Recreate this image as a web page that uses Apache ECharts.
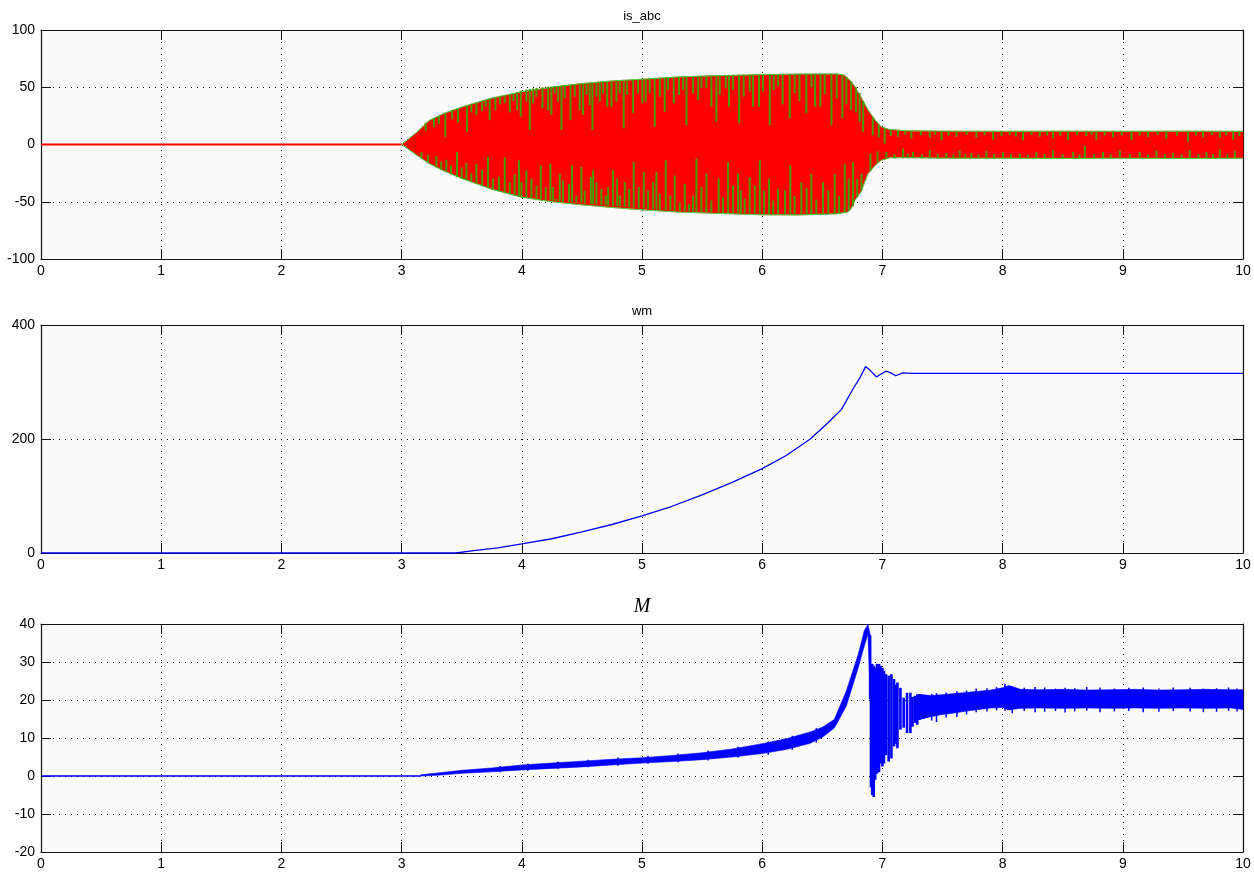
<!DOCTYPE html>
<html>
<head>
<meta charset="utf-8">
<script src="https://cdn.jsdelivr.net/npm/echarts@6/dist/echarts.min.js"></script>
<style>
  html, body { margin: 0; padding: 0; background: #ffffff; }
  #chart { width: 1254px; height: 872px; }
</style>
</head>
<body>
<div id="chart"></div>
<script>
// ---------- time axis (s) ----------
const timeTicks = [0, 1, 2, 3, 4, 5, 6, 7, 8, 9, 10];

// ---------- is_abc : stator phase currents ----------
const isTicks = [-100, -50, 0, 50, 100];
// current is zero until the machine is switched on
const isIdleT = [0, 3.0];
const isIdleV = [0, 0];
// upper envelope of the three phase currents
const isUpT = [3.0, 3.13, 3.23, 3.35, 3.51, 3.75, 4.0, 4.25, 4.48, 4.75, 5.0, 5.3, 5.59, 6.0, 6.3, 6.62, 6.68, 6.71, 6.74, 6.77, 6.82, 6.88, 6.94, 6.99, 7.06, 7.2, 7.6, 8.0, 8.5, 9.0, 9.5, 10.0];
const isUpV = [0, 11, 21, 27, 33, 40.5, 46, 50, 53, 55.5, 57, 59, 60, 61, 61.5, 61.6, 60.8, 58, 55, 50.5, 41.8, 30.1, 21.3, 15.4, 13.1, 11.9, 11.6, 11.5, 11.6, 11.5, 11.6, 11.5];
// lower envelope of the three phase currents
const isLoT = [3.0, 3.13, 3.23, 3.35, 3.51, 3.75, 4.0, 4.25, 4.48, 4.75, 5.0, 5.3, 5.59, 6.0, 6.3, 6.62, 6.71, 6.74, 6.77, 6.82, 6.88, 6.94, 6.99, 7.06, 7.2, 7.6, 8.0, 8.5, 9.0, 9.5, 10.0];
const isLoV = [0, -9.5, -16.7, -23, -30, -39, -46, -50, -52.5, -55, -57, -59, -60, -61.4, -61.5, -60.5, -59, -56, -49, -41.6, -25.5, -18.2, -13.8, -11.6, -11.5, -12, -12, -12.2, -12, -12.2, -12];
// phase b peaks showing through phase c, positive half : [t, edge, tip]
const isStreaksUp = [
  [3.20, 19, 12], [3.27, 23, 15], [3.31, 25, 18], [3.364, 27, 6.7], [3.42, 30, 22], [3.47, 31, 19],
  [3.544, 34, 11.1], [3.58, 35.5, 28], [3.622, 36.5, 25.7], [3.67, 38, 29], [3.70, 39, 33], [3.733, 40, 21.3],
  [3.78, 41, 30], [3.82, 42, 35], [3.858, 43, 36], [3.90, 44, 28], [3.93, 44.5, 38], [3.961, 45.5, 30.1],
  [3.991, 47, 24.2], [4.038, 48, 37.4], [4.066, 48.5, 12.6], [4.094, 49, 35.9], [4.122, 49.5, 41.8],
  [4.172, 50, 31.6], [4.219, 50.5, 30.1], [4.246, 50.5, 25.7], [4.274, 51, 44.7], [4.302, 51.3, 37.4],
  [4.330, 51.6, 12.6], [4.357, 51.8, 40.3], [4.405, 52.3, 21.3], [4.441, 52.6, 41.8], [4.482, 53, 30.1],
  [4.510, 53.2, 25.7], [4.538, 53.4, 43.3], [4.565, 53.6, 34.5], [4.588, 53.8, 12.6], [4.621, 54, 41.8],
  [4.649, 54.3, 37.4], [4.676, 54.5, 44.7], [4.710, 54.8, 33.0], [4.746, 55, 33.0], [4.787, 55.3, 37.4],
  [4.815, 55.6, 44.7], [4.848, 55.8, 14.0], [4.876, 56, 43.3], [4.926, 56.4, 27.2], [4.967, 56.7, 44.7],
  [5.003, 57, 35.9], [5.031, 57.2, 37.4], [5.064, 57.4, 44.7], [5.106, 57.7, 15.5], [5.148, 58, 41.8],
  [5.189, 58.2, 28.6], [5.217, 58.4, 47.6], [5.264, 58.6, 35.9], [5.308, 58.9, 43.3], [5.342, 59, 47.6],
  [5.370, 59.2, 16.9], [5.425, 59.4, 44.7], [5.467, 59.6, 38.9], [5.494, 59.7, 49.1], [5.536, 59.9, 49.1],
  [5.577, 60, 33.0], [5.619, 60.2, 19.9], [5.647, 60.3, 43.3], [5.697, 60.5, 49.1], [5.724, 60.6, 33.0],
  [5.758, 60.7, 47.6], [5.808, 60.8, 18.4], [5.846, 60.9, 41.8], [5.896, 61, 46.2], [5.924, 61, 33.0],
  [5.974, 61.1, 33.0], [6.007, 61.2, 46.2], [6.063, 61.3, 16.9], [6.096, 61.3, 47.6], [6.132, 61.4, 50.6],
  [6.17, 61.4, 35], [6.229, 61.5, 22.8], [6.27, 61.5, 45], [6.31, 61.5, 38], [6.367, 61.5, 27.2],
  [6.41, 61.5, 50], [6.44, 61.5, 33], [6.484, 61.5, 33], [6.52, 61.5, 44], [6.576, 61.5, 16.9],
  [6.62, 61.3, 40], [6.667, 60.8, 22.8], [6.70, 59, 35], [6.74, 55, 30], [6.78, 50, 28], [6.81, 45, 20],
  [6.84, 38, 11], [6.92, 24, 8], [6.97, 17, 6],
  [7.019, 14, 0.9], [7.07, 13, 7.5], [7.13, 12.5, 6.7], [7.19, 12, 8.5], [7.241, 11.8, 5.2], [7.32, 11.7, 8.0],
  [7.394, 11.6, 6.1], [7.44, 11.6, 8.4], [7.491, 11.6, 3.8], [7.55, 11.6, 7.9], [7.616, 11.6, 6.7],
  [7.70, 11.5, 8.6], [7.782, 11.5, 6.1], [7.85, 11.5, 8.0], [7.921, 11.5, 4.3], [7.99, 11.5, 7.6],
  [8.06, 11.5, 8.2], [8.11, 11.5, 6.9], [8.17, 11.5, 3.8], [8.24, 11.5, 8.3], [8.309, 11.5, 6.7],
  [8.37, 11.5, 8.0], [8.42, 11.5, 5.2], [8.48, 11.5, 7.7], [8.545, 11.5, 3.8], [8.62, 11.5, 8.1],
  [8.697, 11.5, 7.3], [8.74, 11.5, 8.6], [8.78, 11.5, 4.3], [8.85, 11.5, 7.8], [8.919, 11.5, 6.1],
  [8.99, 11.5, 8.2], [9.072, 11.5, 3.8], [9.14, 11.5, 7.9], [9.21, 11.5, 6.7], [9.29, 11.5, 8.4],
  [9.363, 11.5, 5.2], [9.45, 11.5, 7.6], [9.543, 11.5, 2.3], [9.61, 11.5, 8.0], [9.668, 11.5, 6.1],
  [9.74, 11.5, 8.3], [9.807, 11.5, 6.1], [9.86, 11.5, 7.9], [9.918, 11.5, 4.3], [9.97, 11.5, 7.4]
];
// negative half : [t, edge, tip]
const isStreaksDown = [
  [3.165, -12, -6.5], [3.22, -16, -9], [3.289, -20, -10.3], [3.33, -22, -15], [3.372, -24, -13.3],
  [3.41, -26, -18], [3.461, -28, -6.5], [3.50, -30, -20], [3.539, -31, -16.2], [3.58, -32.5, -25],
  [3.622, -34, -16.8], [3.67, -36, -22], [3.719, -37.5, -10.9], [3.76, -39.5, -30], [3.81, -41, -28],
  [3.858, -42, -10.9], [3.90, -43.5, -33], [3.94, -44.5, -26], [3.977, -45.5, -13.8],
  [3.997, -46, -32.8], [4.038, -46.5, -22.5], [4.080, -47, -29.9], [4.122, -47.5, -35.8], [4.158, -48, -18.2],
  [4.199, -48.5, -37.2], [4.238, -49, -16.7], [4.260, -49.2, -37.2], [4.288, -49.5, -47.4], [4.316, -49.8, -25.5],
  [4.343, -50, -31.4], [4.393, -50.5, -34.3], [4.418, -50.7, -18.2], [4.454, -51, -44.5], [4.496, -51.3, -19.6],
  [4.524, -51.5, -40.1], [4.574, -52, -28.4], [4.593, -52.1, -22.5], [4.621, -52.4, -32.8], [4.662, -52.8, -38.7],
  [4.698, -53.1, -44.5], [4.718, -53.3, -37.2], [4.759, -53.7, -22.5], [4.793, -54, -29.9], [4.815, -54.2, -44.5],
  [4.856, -54.6, -32.8], [4.893, -55, -38.7], [4.931, -55.3, -15.2], [4.973, -55.7, -37.2], [5.015, -56, -24.0],
  [5.051, -56.3, -40.1], [5.092, -56.6, -32.8], [5.120, -56.8, -24.0], [5.148, -57, -43.1], [5.198, -57.3, -13.8],
  [5.236, -57.6, -44.5], [5.272, -57.8, -26.9], [5.314, -58, -50.4], [5.356, -58.2, -34.3], [5.392, -58.4, -51.8],
  [5.425, -58.6, -44.5], [5.453, -58.7, -12.3], [5.494, -58.9, -37.2], [5.536, -59.1, -25.5], [5.577, -59.3, -48.9],
  [5.638, -59.5, -29.9], [5.674, -59.7, -46.0], [5.716, -59.8, -15.2], [5.758, -60, -35.8], [5.799, -60.1, -25.5],
  [5.822, -60.2, -40.1], [5.855, -60.3, -47.4], [5.896, -60.4, -28.4], [5.938, -60.5, -35.8], [5.980, -60.6, -13.8],
  [6.016, -60.7, -40.1], [6.057, -60.8, -29.9], [6.091, -60.9, -48.9], [6.132, -61, -38.7],
  [6.19, -61.5, -40], [6.234, -61.5, -18.3], [6.27, -61.5, -45], [6.326, -61.5, -32.9], [6.37, -61.5, -38],
  [6.409, -61.3, -25.6], [6.45, -61.2, -48], [6.506, -61, -32.9], [6.55, -61, -40], [6.603, -60.5, -25.6],
  [6.64, -60.2, -45], [6.687, -59.5, -16.8], [6.72, -58, -30], [6.756, -54, -15.3], [6.79, -46, -30],
  [6.826, -40, -25.6], [6.9, -23, -8], [6.96, -16, -6],
  [7.033, -12.5, -6.5], [7.10, -12, -8.4], [7.172, -11.8, -3.5], [7.21, -11.8, -8.0], [7.255, -11.8, -6.5],
  [7.33, -12, -8.6], [7.394, -12, -5], [7.46, -12, -8.2], [7.532, -12, -7.4], [7.59, -12, -8.8],
  [7.643, -12, -5], [7.69, -12, -8.5], [7.74, -12, -7.4], [7.80, -12, -8.9], [7.865, -12, -5.6],
  [7.93, -12.2, -8.3], [8.004, -12.2, -6.5], [8.07, -12.2, -8.7], [8.143, -12.2, -8], [8.21, -12.2, -8.9],
  [8.281, -12.2, -6.5], [8.35, -12.2, -8.4], [8.42, -12.2, -5], [8.50, -12.2, -8.6], [8.587, -12.2, -6.5],
  [8.64, -12.2, -8.8], [8.684, -12, -1.2], [8.76, -12, -8.5], [8.836, -12, -6.5], [8.90, -12, -8.7],
  [8.975, -12, -5], [9.06, -12.2, -8.4], [9.141, -12.2, -6.5], [9.21, -12.2, -8.8], [9.28, -12.2, -5],
  [9.35, -12.2, -8.5], [9.419, -12.2, -7.4], [9.49, -12, -8.6], [9.557, -12, -5], [9.63, -12, -8.7],
  [9.696, -12, -6.5], [9.75, -12, -8.4], [9.807, -12, -4.4], [9.87, -12, -8.8], [9.932, -12, -5.6]
];

// ---------- wm : rotor speed ----------
const wmTicks = [0, 200, 400];
const wmT = [0, 3.45, 3.6, 3.8, 4.0, 4.25, 4.5, 4.75, 5.0, 5.25, 5.5, 5.75, 6.0, 6.2, 6.4, 6.55, 6.66, 6.75, 6.82, 6.86, 6.9, 6.95, 6.99, 7.03, 7.07, 7.11, 7.17, 7.25, 7.35, 7.5, 8.0, 8.5, 9.0, 9.5, 10.0];
const wmV = [0, 0, 4, 9, 16, 25, 37, 50, 65, 82, 102, 124, 148, 171, 200, 229, 252, 286, 310, 327, 320, 309, 314, 319, 316, 311, 316, 315, 315, 315, 315, 315, 315, 315, 315];

// ---------- M : electromagnetic torque ----------
const mTicks = [-20, -10, 0, 10, 20, 30, 40];
const mIdleT = [0, 3.16];
const mIdleV = [0, 0];
// acceleration: torque ripple band
const mRiseT  = [3.16, 3.3, 3.5, 3.75, 4.0, 4.25, 4.5, 4.75, 5.0, 5.25, 5.5, 5.75, 6.0, 6.2, 6.4, 6.5, 6.6, 6.7, 6.8, 6.85, 6.88, 6.9];
const mRiseLo = [0, 0.2, 0.7, 1.1, 1.6, 2.0, 2.4, 2.9, 3.4, 3.8, 4.3, 5.0, 5.9, 7.0, 8.6, 10.2, 12.6, 18.4, 28.6, 34.3, 37.4, 20.2];
const mRiseHi = [0.3, 0.8, 1.5, 2.1, 2.9, 3.4, 3.9, 4.4, 4.8, 5.4, 6.1, 7.1, 8.5, 9.8, 11.6, 12.8, 14.9, 22.4, 32.1, 38.3, 39.9, 37.0];
// ripple spikes on the acceleration band : [t, min, max]
const mRiseRipple = [
  [3.82, 1.0, 2.6], [4.05, 1.4, 3.3], [4.3, 1.9, 3.8], [4.55, 2.3, 4.3], [4.8, 2.7, 4.9],
  [5.05, 3.2, 5.3], [5.3, 3.6, 5.9], [5.55, 4.1, 6.7], [5.8, 4.8, 7.7], [6.05, 5.6, 9.1],
  [6.25, 6.9, 10.6], [6.45, 8.8, 12.6]
];
// oscillation after pull-in : [t, min, max]
const mOscillation = [
  [6.898, 20.2, 37.0], [6.905, -3.0, 22.0], [6.915, -5.0, 29.5], [6.928, -5.5, 29.0], [6.94, -1.0, 28.5],
  [6.955, 0.6, 29.5], [6.972, 1.0, 29.5], [6.985, 3.3, 29.0], [7.0, 2.5, 28.5], [7.013, 3.3, 27.7],
  [7.03, 5.5, 26.8], [7.052, 3.8, 26.4], [7.075, 4.6, 26.8], [7.097, 7.8, 25.5], [7.112, 8.5, 24.0],
  [7.125, 7.3, 24.6], [7.15, 12.2, 23.2], [7.177, 12.7, 20.6], [7.205, 11.3, 21.9], [7.233, 11.3, 21.9],
  [7.25, 13.0, 20.8], [7.269, 14.0, 21.1], [7.29, 13.5, 21.5], [7.31, 14.8, 21.5], [7.34, 15.0, 21.3],
  [7.366, 15.3, 21.1]
];
// steady state ripple band
const mSteadyT  = [7.3, 7.4, 7.5, 7.6, 7.7, 7.8, 7.9, 8.0, 8.05, 8.15, 8.3, 8.5, 8.7, 8.9, 9.1, 9.3, 9.5, 9.7, 9.9, 10.0];
const mSteadyLo = [14.8, 15.6, 16.2, 16.6, 17.1, 17.5, 17.9, 18.0, 17.4, 17.8, 17.9, 17.8, 17.9, 17.8, 17.9, 17.8, 17.9, 17.8, 17.9, 17.5];
const mSteadyHi = [21.5, 21.2, 21.4, 21.7, 22.0, 22.3, 22.6, 23.2, 23.8, 22.8, 22.7, 22.8, 22.6, 22.7, 22.8, 22.6, 22.7, 22.8, 22.7, 22.7];
const mRipplePeaks = [
  [7.41, 14.6, 21.6], [7.45, 14.2, 21.8], [7.53, 15.4, 22.0], [7.62, 15.5, 22.3], [7.70, 16.2, 22.5],
  [7.78, 16.8, 23.0], [7.87, 17.0, 23.1], [7.95, 17.3, 23.4], [8.02, 17.2, 24.3], [8.08, 16.5, 23.6],
  [8.18, 17.1, 23.2], [8.27, 16.8, 23.4], [8.35, 16.9, 23.3], [8.44, 17.1, 23.0], [8.52, 16.7, 23.2],
  [8.6, 17.0, 23.1], [8.7, 17.2, 23.4], [8.81, 16.8, 23.3], [8.93, 17.0, 23.0], [9.05, 17.1, 23.2],
  [9.17, 16.8, 23.3], [9.3, 16.9, 23.0], [9.42, 17.1, 23.3], [9.56, 17.0, 23.2], [9.67, 16.8, 23.0],
  [9.78, 16.9, 23.1], [9.88, 17.1, 23.3], [9.95, 17.0, 23.0]
];

// ---------- helpers ----------
const zip = (xs, ys) => xs.map((x, i) => [x, ys[i]]);
const FONT = 'Liberation Sans, Arial, sans-serif';
const FRAME = '#111111';

const grids = [
  { left: 41, right: 11, top: 30, height: 229 },
  { left: 41, right: 11, top: 325, height: 228 },
  { left: 41, right: 11, top: 624, height: 228 }
].map(g => Object.assign(g, { show: true, backgroundColor: '#fafafa', borderWidth: 0 }));

const gridLine = { show: true, lineStyle: { type: [1, 5], color: '#000', width: 1 } };

function xMain(gi) {
  return {
    type: 'value', gridIndex: gi, position: 'bottom',
    min: timeTicks[0], max: timeTicks[timeTicks.length - 1], interval: timeTicks[1] - timeTicks[0],
    axisLine: { show: true, onZero: false, lineStyle: { color: FRAME, width: 1.2 } },
    axisTick: { show: true, inside: true, length: 10, lineStyle: { color: FRAME } },
    axisLabel: { color: '#000', fontSize: 14, fontFamily: FONT, margin: 5 },
    splitLine: gridLine
  };
}
function xMirror(gi) {
  return {
    type: 'value', gridIndex: gi, position: 'top',
    min: timeTicks[0], max: timeTicks[timeTicks.length - 1], interval: timeTicks[1] - timeTicks[0],
    axisLine: { show: true, onZero: false, lineStyle: { color: FRAME, width: 1.2 } },
    axisTick: { show: true, inside: true, length: 10, lineStyle: { color: FRAME } },
    axisLabel: { show: false }, splitLine: { show: false }
  };
}
function yMain(gi, ticks) {
  return {
    type: 'value', gridIndex: gi, position: 'left',
    min: ticks[0], max: ticks[ticks.length - 1], interval: ticks[1] - ticks[0],
    axisLine: { show: true, onZero: false, lineStyle: { color: FRAME, width: 1.2 } },
    axisTick: { show: true, inside: true, length: 10, lineStyle: { color: FRAME } },
    axisLabel: { color: '#000', fontSize: 14, fontFamily: FONT, margin: 6 },
    splitLine: gridLine
  };
}
function yMirror(gi, ticks) {
  return {
    type: 'value', gridIndex: gi, position: 'right',
    min: ticks[0], max: ticks[ticks.length - 1], interval: ticks[1] - ticks[0],
    axisLine: { show: true, onZero: false, lineStyle: { color: FRAME, width: 1.2 } },
    axisTick: { show: true, inside: true, length: 10, lineStyle: { color: FRAME } },
    axisLabel: { show: false }, splitLine: { show: false }
  };
}

// filled band between an upper and a lower trace
function band(gi, upT, upV, loT, loV, color, z) {
  return {
    type: 'custom', xAxisIndex: gi, yAxisIndex: gi, silent: true, z: z || 2,
    data: [[upT[0], upV[0]]],
    renderItem: function (params, api) {
      const pts = upT.map((t, i) => api.coord([t, upV[i]]));
      for (let i = loT.length - 1; i >= 0; i--) pts.push(api.coord([loT[i], loV[i]]));
      return { type: 'polygon', shape: { points: pts }, style: { fill: color, stroke: color, lineWidth: 0.6 } };
    }
  };
}
// vertical segments [t, a, b]
function segments(gi, data, color, width, z) {
  return {
    type: 'custom', xAxisIndex: gi, yAxisIndex: gi, silent: true, z: z || 3,
    data: data, encode: { x: 0, y: [1, 2] },
    renderItem: function (params, api) {
      const p1 = api.coord([api.value(0), api.value(1)]);
      const p2 = api.coord([api.value(0), api.value(2)]);
      return { type: 'line', shape: { x1: p1[0], y1: p1[1], x2: p2[0], y2: p2[1] },
               style: { stroke: color, lineWidth: width } };
    }
  };
}
function trace(gi, xs, ys, color, width, z) {
  return {
    type: 'line', xAxisIndex: gi, yAxisIndex: gi, data: zip(xs, ys),
    symbol: 'none', silent: true, z: z || 3, smooth: false,
    lineStyle: { color: color, width: width }
  };
}

const titles = [
  { text: 'is_abc', y: 23, font: '13px ' + FONT },
  { text: 'wm', y: 318, font: '13px ' + FONT },
  { text: 'M', y: 617, font: 'italic 20px "Liberation Serif", "Times New Roman", serif' }
];

const chart = echarts.init(document.getElementById('chart'), null, { renderer: 'canvas' });
chart.setOption({
  animation: false,
  backgroundColor: '#ffffff',
  grid: grids,
  xAxis: [xMain(0), xMain(1), xMain(2), xMirror(0), xMirror(1), xMirror(2)],
  yAxis: [yMain(0, isTicks), yMain(1, wmTicks), yMain(2, mTicks),
          yMirror(0, isTicks), yMirror(1, wmTicks), yMirror(2, mTicks)],
  graphic: titles.map(t => ({
    type: 'text', x: 642, y: t.y, silent: true,
    style: { text: t.text, font: t.font, fill: '#000', align: 'center', verticalAlign: 'bottom' }
  })),
  series: [
    // is_abc
    trace(0, isIdleT, isIdleV, '#ff0000', 2),
    band(0, isUpT, isUpV, isLoT, isLoV, '#ff0000', 2),
    trace(0, isUpT, isUpV, '#44dd44', 1, 3),
    trace(0, isLoT, isLoV, '#44dd44', 1, 3),
    segments(0, isStreaksUp, '#4a9a00', 2, 4),
    segments(0, isStreaksDown, '#4a9a00', 2, 4),
    // wm
    trace(1, wmT, wmV, '#0000ff', 1.3),
    // M
    trace(2, mIdleT, mIdleV, '#0000ff', 1.5),
    band(2, mRiseT, mRiseHi, mRiseT, mRiseLo, '#0000ff', 3),
    segments(2, mRiseRipple, '#0000ff', 1.5, 3),
    segments(2, mOscillation, '#0000ff', 2.6, 3),
    band(2, mSteadyT, mSteadyHi, mSteadyT, mSteadyLo, '#0000ff', 3),
    segments(2, mRipplePeaks, '#0000ff', 1.5, 3)
  ]
});
</script>
</body>
</html>
